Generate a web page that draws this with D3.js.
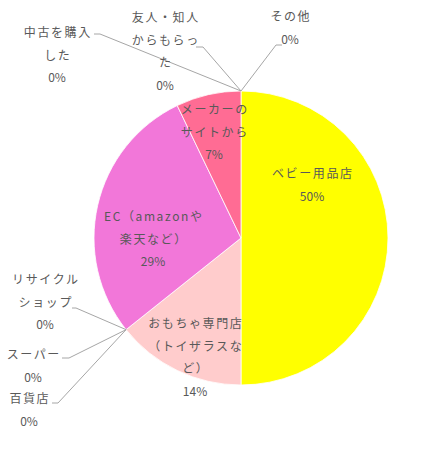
<!DOCTYPE html>
<html>
<head>
<meta charset="utf-8">
<script src="https://cdn.jsdelivr.net/npm/d3@7.9.0/dist/d3.min.js"></script>
<style>
  html, body { margin: 0; padding: 0; background: #fff; }
  svg text { font-family: "Noto Sans CJK JP", "Noto Sans", sans-serif; font-size: 12px; fill: #595959; }
</style>
</head>
<body>
<svg id="chart" width="445" height="453"></svg>
<script>
// 購入先（回答数）
const categories = ['ベビー用品店', 'おもちゃ専門店（トイザラスなど）', '百貨店', 'スーパー', 'リサイクルショップ',
  'EC（amazonや楽天など）', 'メーカーのサイトから', '中古を購入した', '友人・知人からもらった', 'その他'];
const counts = [7, 2, 0, 0, 0, 4, 1, 0, 0, 0];
const colorList = ['#ffff00', '#ffcccc', '#bfbfbf', '#bfbfbf', '#bfbfbf', '#f277d9', '#ff6c94', '#bfbfbf', '#bfbfbf', '#bfbfbf'];

// label lines as Excel wraps them
const labelLines = [
  ['ベビー用品店'],
  ['おもちゃ専門店', '（トイザラスな', 'ど）'],
  ['百貨店'],
  ['スーパー'],
  ['リサイクル', 'ショップ'],
  ['EC（amazonや', '楽天など）'],
  ['メーカーの', 'サイトから'],
  ['中古を購入', 'した'],
  ['友人・知人', 'からもらっ', 'た'],
  ['その他']
];
// label centre [x, first line y]
const labelPos = [
  [312, 172], [195, 322], [29, 397], [33, 353], [45, 278],
  [153, 215], [214, 108], [57, 31], [165, 16], [290, 15]
];
// leader elbow / end for outside labels
const leaders = {
  2: [[58, 403], [52, 403]],
  3: [[69, 358], [62, 358]],
  4: [[76, 308], [72, 308]],
  7: [[100, 34], [94, 34]],
  8: [[203, 47], [196, 47]],
  9: [[276, 45], [282, 45]]
};

const cx = 241, cy = 238, radius = 147;
const lineStep = 22.5;
const total = d3.sum(counts);

const svg = d3.select('#chart');
const data = categories.map((c, i) => ({ label: c, value: counts[i], i }));

let pie = d3.pie().sort(null).value(d => d.value);
let arc = d3.arc().innerRadius(0).outerRadius(radius);
const arcs = pie(data);

const g = svg.append('g').attr('transform', `translate(${cx},${cy})`);

g.selectAll('path')
  .data(arcs.filter(d => d.value > 0))
  .join('path')
  .attr('d', arc)
  .attr('fill', d => colorList[d.data.i])
  .attr('stroke', '#fff')
  .attr('stroke-width', 0.8);

// leader lines for the 0% slices
arcs.forEach(d => {
  const L = leaders[d.data.i];
  if (!L) return;
  const a = d.startAngle;
  const p0 = [cx + radius * Math.sin(a), cy - radius * Math.cos(a)];
  svg.append('polyline')
    .attr('points', [p0, L[0], L[1]].map(p => p.join(',')).join(' '))
    .attr('fill', 'none')
    .attr('stroke', '#a6a6a6')
    .attr('stroke-width', 1);
});

// labels
arcs.forEach(d => {
  const i = d.data.i;
  const pct = Math.round(d.value / total * 100) + '%';
  const lines = labelLines[i].concat([pct]);
  const [x, y] = labelPos[i];
  const t = svg.append('text')
    .attr('text-anchor', 'middle')
    .attr('dominant-baseline', 'central');
  lines.forEach((s, k) => {
    t.append('tspan')
      .attr('x', x + (k < lines.length - 1 ? 0.8 : 0))
      .attr('y', y + k * lineStep)
      .style('letter-spacing', k < lines.length - 1 ? '1.6px' : '0px')
      .text(s);
  });
});
</script>
</body>
</html>
